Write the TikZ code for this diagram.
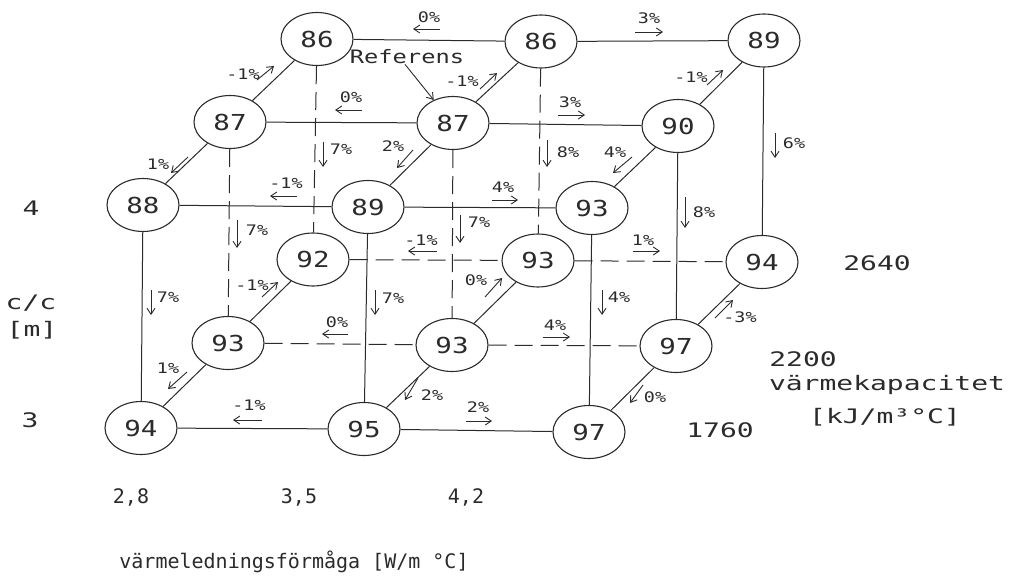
\documentclass[tikz,border=0pt]{standalone}
\usepackage{fontspec}
\usetikzlibrary{shapes.geometric,arrows.meta}
\newfontfamily\cadfont{DejaVu Sans Mono}
\newcommand\cadtext[2]{\fontsize{#1}{#1}\cadfont\addfontfeature{FakeStretch=#2}}
\definecolor{ink}{HTML}{2B2B2B}
\begin{document}
\begin{tikzpicture}[x=1pt,y=-1pt,line join=round,
  val/.style={ellipse,draw=ink,line width=1.1pt,minimum width=72pt,minimum height=53pt,inner sep=0pt,text=ink,font=\cadtext{22}{1.25}},
  edge/.style={draw=ink,line width=1pt},
  hidden/.style={edge,dash pattern=on 18pt off 8pt},
  flow/.style={draw=ink,line width=0.9pt,-{Straight Barb[length=6pt,width=8pt]}},
  pct/.style={text=ink,font=\cadtext{14.5}{1.27},inner sep=0pt},
  axis/.style={text=ink,font=\cadtext{20}{1.4},inner sep=0pt},
  axisn/.style={text=ink,font=\cadtext{20}{1.0},inner sep=0pt},
]
\useasboundingbox (0,0) rectangle (1018,581);
\fill[white] (0,0) rectangle (1018,581);

% nodes: back top, mid top, front top
\node[val] (b1) at (317,39) {86};
\node[val] (b2) at (541,41.5) {86};
\node[val] (b3) at (764,40.5) {89};
\node[val] (m1) at (230,122) {87};
\node[val] (m2) at (453,123) {87};
\node[val] (m3) at (678,126) {90};
\node[val] (f1) at (143,205) {88};
\node[val] (f2) at (368,207) {89};
\node[val] (f3) at (592,208) {93};
% back bottom, mid bottom, front bottom
\node[val] (bb1) at (313,259.5) {92};
\node[val] (bb2) at (538,260.5) {93};
\node[val] (bb3) at (762,262) {94};
\node[val] (mb1) at (228,343) {93};
\node[val] (mb2) at (452,345) {93};
\node[val] (mb3) at (676,346) {97};
\node[val] (fb1) at (141,428) {94};
\node[val] (fb2) at (364,429) {95};
\node[val] (fb3) at (589,432) {97};

% solid edges
\draw[edge] (b1) -- (b2);  \draw[edge] (b2) -- (b3);
\draw[edge] (m1) -- (m2);  \draw[edge] (m2) -- (m3);
\draw[edge] (f1) -- (f2);  \draw[edge] (f2) -- (f3);
\draw[edge] (fb1) -- (fb2);  \draw[edge] (fb2) -- (fb3);
\draw[edge] (f1) -- (m1);  \draw[edge] (m1) -- (b1);
\draw[edge] (f2) -- (m2);  \draw[edge] (m2) -- (b2);
\draw[edge] (f3) -- (m3);  \draw[edge] (m3) -- (b3);
\draw[edge] (fb1) -- (mb1);  \draw[edge] (mb1) -- (bb1);
\draw[edge] (fb2) -- (mb2);  \draw[edge] (mb2) -- (bb2);
\draw[edge] (fb3) -- (mb3);  \draw[edge] (mb3) -- (bb3);
\draw[edge] (f1) -- (fb1);  \draw[edge] (f2) -- (fb2);  \draw[edge] (f3) -- (fb3);
\draw[edge] (m3) -- (mb3);  \draw[edge] (b3) -- (bb3);
% hidden edges
\draw[hidden] (bb1) -- (bb2);  \draw[hidden] (bb2) -- (bb3);
\draw[hidden] (mb1) -- (mb2);  \draw[hidden] (mb2) -- (mb3);
\draw[hidden] (m1) -- (mb1);  \draw[hidden] (m2) -- (mb2);
\draw[hidden] (b1) -- (bb1);  \draw[hidden] (b2) -- (bb2);

% horizontal flow arrows
\node[pct] at (429,17) {0\%};   \draw[flow] (440,29) -- (413,29);
\node[pct] at (649,18) {3\%};   \draw[flow] (635,32) -- (663,32);
\node[pct] at (351,97) {0\%};   \draw[flow] (362,110) -- (335,110);
\node[pct] at (570,102) {3\%};  \draw[flow] (558,115) -- (585,115);
\node[pct] at (286,183) {-1\%}; \draw[flow] (297,196) -- (270,196);
\node[pct] at (503,187) {4\%};  \draw[flow] (492,200) -- (518,200);
\node[pct] at (421,240) {-1\%}; \draw[flow] (437,251) -- (408,251);
\node[pct] at (643,240) {1\%};  \draw[flow] (633,251) -- (660,251);
\node[pct] at (337,322) {0\%};  \draw[flow] (348,334) -- (322,334);
\node[pct] at (555,325) {4\%};  \draw[flow] (543,337) -- (570,337);
\node[pct] at (249,405) {-1\%}; \draw[flow] (262,420) -- (233,420);
\node[pct] at (478,407) {2\%};  \draw[flow] (466,421) -- (492,421);

% vertical flow arrows
\draw[flow] (323,142) -- (323,167); \node[pct] at (341,149) {7\%};
\draw[flow] (547,140) -- (547,167); \node[pct] at (568,152) {8\%};
\draw[flow] (775,133) -- (775,158); \node[pct] at (794,143) {6\%};
\draw[flow] (237,220) -- (237,248); \node[pct] at (257,230) {7\%};
\draw[flow] (460,215) -- (460,243); \node[pct] at (479,222) {7\%};
\draw[flow] (685,197) -- (685,228); \node[pct] at (704,212) {8\%};
\draw[flow] (151,290) -- (151,315); \node[pct] at (168,297) {7\%};
\draw[flow] (375,290) -- (375,315); \node[pct] at (393,298) {7\%};
\draw[flow] (602,290) -- (602,315); \node[pct] at (619,297) {4\%};

% depth flow arrows
\node[pct] at (243,74) {-1\%};  \draw[flow] (257,80) -- (274,66);
\node[pct] at (462,81) {-1\%};  \draw[flow] (480,89) -- (497,73);
\node[pct] at (691,77) {-1\%};  \draw[flow] (707,85) -- (723,70);
\node[pct] at (158,164) {1\%};  \draw[flow] (188,157) -- (171,173);
\node[pct] at (393,146) {2\%};  \draw[flow] (413,150) -- (397,168);
\node[pct] at (615,152) {4\%};  \draw[flow] (632,157) -- (613,173);
\node[pct] at (252,285) {-1\%}; \draw[flow] (262,297) -- (278,282);
\node[pct] at (476,280) {0\%};  \draw[flow] (485,297) -- (502,278);
\node[pct] at (740,317) {-3\%}; \draw[flow] (715,318) -- (733,300);
\node[pct] at (168,368) {1\%};  \draw[flow] (187,372) -- (168,389);
\node[pct] at (432,395) {2\%};  \draw[flow] (418,378) -- (405,400);
\node[pct] at (655,397) {0\%};  \draw[flow] (643,385) -- (630,403);

% reference marker
\node[text=ink,font=\cadtext{18.5}{1.28},inner sep=0pt] (ref) at (407,57) {Referens};
\draw[flow] ([xshift=-2pt]ref.south) -- (m2.130);

% axis labels
\node[axis] (y4) at (31,208) {4};
\node[axis] (ycc) at (31,303) {c/c};
\node[axis] (ym) at (32,330) {[m]};
\node[axis] (y3) at (30,420) {3};
\node[axis] (z3) at (877,263) {2640};
\node[axis] (z2) at (803,359) {2200};
\node[axis] (zl) at (887,385) {värmekapacitet};
\node[axis] (zu) at (885,417) {[kJ/m³°C]};
\node[axis] (z1) at (720,430) {1760};
\node[axisn] (x1) at (131,497) {2,8};
\node[axisn] (x2) at (299,497) {3,5};
\node[axisn] (x3) at (466,497) {4,2};
\node[axisn] (xl) at (294,562) {värmeledningsförmåga [W/m °C]};
\end{tikzpicture}
\end{document}
